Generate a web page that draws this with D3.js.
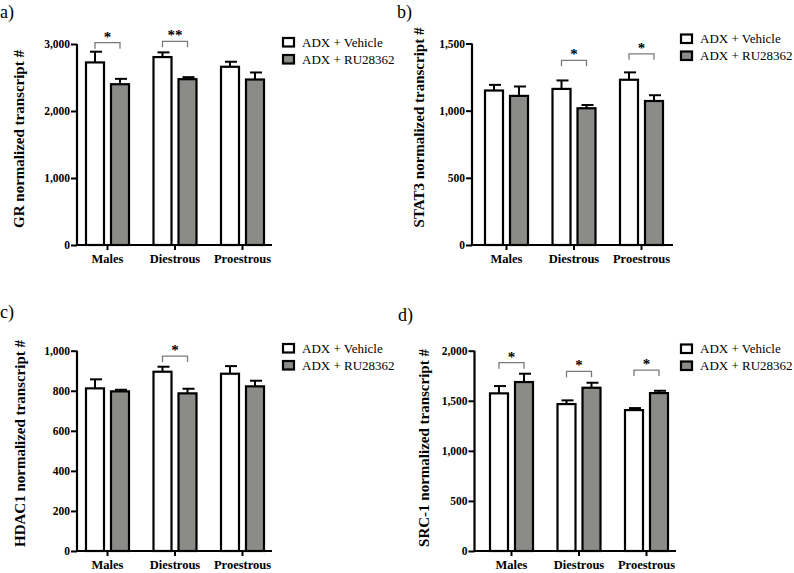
<!DOCTYPE html>
<html><head><meta charset="utf-8">
<script src="https://cdn.jsdelivr.net/npm/d3@7"></script>
<style>body{margin:0;background:#fff}svg{display:block}
svg text{font-family:"Liberation Serif","Times New Roman",Times,serif;}</style>
</head><body>
<svg id="c" width="794" height="573"></svg>
<script>
// ---------- data ----------
const categories = ["Males", "Diestrous", "Proestrous"];
const seriesNames = ["ADX + Vehicle", "ADX + RU28362"];

const grVehicle = [2725, 2805, 2660];
const grVehicleErr = [160, 70, 75];
const grRU = [2400, 2475, 2470];
const grRUErr = [80, 30, 105];
const grTicks = [0, 1000, 2000, 3000];
const grSig = [["Males", "*", 3020], ["Diestrous", "**", 3040]];

const stat3Vehicle = [1150, 1162, 1230];
const stat3VehicleErr = [42, 63, 55];
const stat3RU = [1110, 1018, 1072];
const stat3RUErr = [70, 24, 43];
const stat3Ticks = [0, 500, 1000, 1500];
const stat3Sig = [["Diestrous", "*", 1375], ["Proestrous", "*", 1423]];

const hdac1Vehicle = [812, 895, 885];
const hdac1VehicleErr = [45, 25, 38];
const hdac1RU = [797, 787, 822];
const hdac1RUErr = [8, 23, 28];
const hdac1Ticks = [0, 200, 400, 600, 800, 1000];
const hdac1Sig = [["Diestrous", "*", 973]];

const src1Vehicle = [1574, 1467, 1407];
const src1VehicleErr = [73, 37, 20];
const src1RU = [1687, 1630, 1577];
const src1RUErr = [83, 50, 23];
const src1Ticks = [0, 500, 1000, 1500, 2000];
const src1Sig = [["Males", "*", 1880], ["Diestrous", "*", 1794], ["Proestrous", "*", 1807]];

// ---------- layout ----------
const panels = [
  {tag:"a)", tagX:0, tagY:18, title:"GR normalized transcript #", titleX:24, titleY:139,
   axisX:77, axisEnd:272, top:44, bottom:245, firstBar:86,
   veh:grVehicle, vehErr:grVehicleErr, ru:grRU, ruErr:grRUErr, ticks:grTicks, sig:grSig,
   legX:282, legY:37},
  {tag:"b)", tagX:397, tagY:18, title:"STAT3 normalized transcript #", titleX:424, titleY:127.5,
   axisX:472, axisEnd:673, top:43.5, bottom:245, firstBar:485,
   veh:stat3Vehicle, vehErr:stat3VehicleErr, ru:stat3RU, ruErr:stat3RUErr, ticks:stat3Ticks, sig:stat3Sig,
   legX:680, legY:33.5},
  {tag:"c)", tagX:0, tagY:318, title:"HDAC1 normalized transcript #", titleX:25, titleY:443.5,
   axisX:77, axisEnd:272, top:350.7, bottom:551, firstBar:86,
   veh:hdac1Vehicle, vehErr:hdac1VehicleErr, ru:hdac1RU, ruErr:hdac1RUErr, ticks:hdac1Ticks, sig:hdac1Sig,
   legX:282, legY:343},
  {tag:"d)", tagX:398, tagY:321, title:"SRC-1 normalized transcript #", titleX:429, titleY:448,
   axisX:474.5, axisEnd:676, top:350.7, bottom:551, firstBar:490,
   veh:src1Vehicle, vehErr:src1VehicleErr, ru:src1RU, ruErr:src1RUErr, ticks:src1Ticks, sig:src1Sig,
   legX:680, legY:343.5}
];

const GROUP_STEP = 67.5, GROUP_W = 43, BAR_GAP = 7;
const fills = ["#ffffff", "#8b8b87"];
const serif = "Liberation Serif";
const svg = d3.select("#c");

panels.forEach(p => {
  const g = svg.append("g");
  const x = d3.scaleBand().domain(categories)
    .range([p.firstBar, p.firstBar + GROUP_STEP * 2 + GROUP_W])
    .paddingInner((GROUP_STEP - GROUP_W) / GROUP_STEP).paddingOuter(0);
  const xs = d3.scaleBand().domain(seriesNames).range([0, x.bandwidth()])
    .paddingInner(BAR_GAP / ((x.bandwidth() + BAR_GAP) / 2)).paddingOuter(0);
  const maxV = p.ticks[p.ticks.length - 1];
  const y = d3.scaleLinear().domain([0, maxV]).range([p.bottom, p.top]);

  const rows = [];
  categories.forEach((c, i) => {
    rows.push({cat:c, s:seriesNames[0], v:p.veh[i], e:p.vehErr[i], k:0});
    rows.push({cat:c, s:seriesNames[1], v:p.ru[i], e:p.ruErr[i], k:1});
  });

  // error bars (upper only)
  const cap = 12;
  rows.forEach(r => {
    const cx = x(r.cat) + xs(r.s) + xs.bandwidth() / 2;
    g.append("line").attr("x1", cx).attr("x2", cx).attr("y1", y(r.v)).attr("y2", y(r.v + r.e))
      .attr("stroke", "#000").attr("stroke-width", 2);
    g.append("line").attr("x1", cx - cap / 2 + 1).attr("x2", cx + cap / 2 + 1)
      .attr("y1", y(r.v + r.e)).attr("y2", y(r.v + r.e))
      .attr("stroke", "#000").attr("stroke-width", 2);
  });
  // bars
  g.selectAll("rect.bar").data(rows).enter().append("rect")
    .attr("x", r => x(r.cat) + xs(r.s))
    .attr("width", xs.bandwidth())
    .attr("y", r => y(r.v))
    .attr("height", r => y(0) - y(r.v))
    .attr("fill", r => fills[r.k])
    .attr("stroke", "#000").attr("stroke-width", 2.2);

  // y axis
  const ya = d3.axisLeft(y).tickValues(p.ticks).tickFormat(d3.format(",")).tickSize(6).tickPadding(1);
  const yg = g.append("g").attr("transform", `translate(${p.axisX},0)`).call(ya);
  yg.attr("font-family", null);
  yg.select(".domain").attr("stroke-width", 2.2).attr("d", `M0,${p.top}V${p.bottom}`);
  yg.selectAll(".tick line").attr("stroke-width", 2);
  yg.selectAll(".tick text").style("font-family", serif).attr("font-weight", "bold")
    .attr("font-size", 11.5).attr("fill", "#000");

  // x axis
  const xa = d3.axisBottom(x).tickSize(5).tickSizeOuter(0).tickPadding(4);
  const xg = g.append("g").attr("transform", `translate(0,${p.bottom})`).call(xa);
  xg.attr("font-family", null);
  xg.select(".domain").attr("stroke-width", 2.2).attr("d", `M${p.axisX - 1},0H${p.axisEnd}`);
  xg.selectAll(".tick line").attr("stroke-width", 2);
  xg.selectAll(".tick text").style("font-family", serif).attr("font-weight", "bold")
    .attr("font-size", 12.5).attr("fill", "#000");

  // y title
  g.append("text").attr("transform", `translate(${p.titleX},${p.titleY}) rotate(-90)`)
    .attr("text-anchor", "middle").style("font-family", serif).attr("font-weight", "bold")
    .attr("font-size", 15).text(p.title);

  // panel tag
  g.append("text").attr("x", p.tagX).attr("y", p.tagY).style("font-family", serif)
    .attr("font-size", 18).text(p.tag);

  // significance brackets
  const leg = 6;
  p.sig.forEach(([cat, lab, v]) => {
    const x1 = x(cat) + xs(seriesNames[0]) + xs.bandwidth() / 2;
    const x2 = x(cat) + xs(seriesNames[1]) + xs.bandwidth() / 2;
    const yy = y(v);
    g.append("path").attr("d", `M${x1},${yy + leg}V${yy}H${x2}V${yy + leg}`)
      .attr("fill", "none").attr("stroke", "#7a7a7a").attr("stroke-width", 1.3);
    g.append("text").attr("x", (x1 + x2) / 2).attr("y", yy - 1).attr("text-anchor", "middle")
      .style("font-family", serif).attr("font-weight", "bold").attr("font-size", 15).text(lab);
  });

  // legend
  seriesNames.forEach((s, i) => {
    const ly = p.legY + i * 17;
    g.append("rect").attr("x", p.legX + 1).attr("y", ly + 1).attr("width", 11).attr("height", 8.5)
      .attr("fill", fills[i]).attr("stroke", "#000").attr("stroke-width", 2.2);
    g.append("text").attr("x", p.legX + 20).attr("y", ly + 9.5).style("font-family", serif)
      .attr("font-size", 13).text(s);
  });
});
</script>
</body></html>
